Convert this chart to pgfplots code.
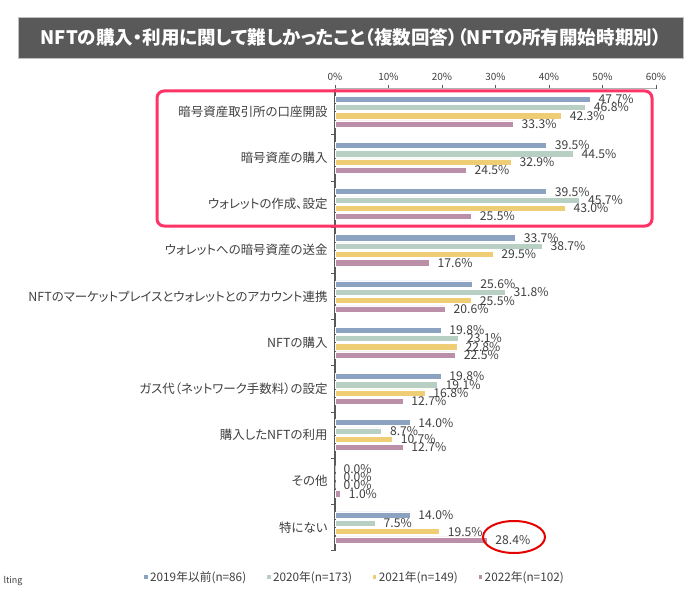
\documentclass[border=0pt]{standalone}
\usepackage{pgfplots}
\pgfplotsset{compat=1.18}
\usepackage{fontspec}
\setmainfont{Noto Sans CJK JP}[RawFeature=+palt]
\definecolor{cblue}{RGB}{139,163,193}
\definecolor{cgreen}{RGB}{184,207,196}
\definecolor{cyellow}{RGB}{239,205,117}
\definecolor{cmauve}{RGB}{187,143,167}
\definecolor{ctitle}{RGB}{89,89,89}
\definecolor{ctext}{RGB}{64,64,64}
\definecolor{cframe}{RGB}{255,51,102}
\begin{document}
\begin{tikzpicture}[x=1bp,y=1bp]
\useasboundingbox (0,0) rectangle (700,-595);
\fill[white] (0,0) rectangle (700,-595);
\draw[fill=ctitle, draw=gray!50] (18,-17) rectangle (683,-58);
\node[text=white, font=\bfseries\fontsize{18.6}{20}\selectfont] at (351,-37.5) {NFTの購入・利用に関して難しかったこと（複数回答）（NFTの所有開始時期別）};
\begin{axis}[
  at={(335bp,-550.5bp)}, anchor=south west,
  width=321bp, height=462bp, scale only axis,
  xbar, bar width=6.2bp,
  xmin=0, xmax=60, ymin=-0.5, ymax=9.5,
  axis x line*=top, axis y line*=left,
  x axis line style={draw=gray!60, line width=0.6bp},
  y axis line style={draw=ctitle, line width=1.3bp},
  tick align=outside, major tick length=4bp,
  tick style={draw=ctitle, line width=0.8bp},
  xtick={0,10,...,60},
  xticklabel={\pgfmathprintnumber{\tick}\%},
  xticklabel style={font=\fontsize{10}{12}\selectfont, text=ctext},
  ytick={-0.5,0.5,...,8.5},
  yticklabels={特にない,その他,購入したNFTの利用,ガス代（ネットワーク手数料）の設定,NFTの購入,NFTのマーケットプレイスとウォレットとのアカウント連携,ウォレットへの暗号資産の送金,ウォレットの作成、設定,暗号資産の購入,暗号資産取引所の口座開設},
  yticklabel style={yshift=23.1bp, anchor=east, font=\fontsize{12.5}{14}\selectfont, text=ctext},
  /pgf/number format/assume math mode=true,
  point meta=x,
  nodes near coords={\pgfmathprintnumber[fixed,fixed zerofill,precision=1]{\pgfplotspointmeta}\%},
  nodes near coords style={anchor=west, xshift=5bp, font=\fontsize{12.2}{14}\selectfont, text=ctext},
  legend columns=4,
  legend style={at={(0.061,-0.057)}, anchor=center, draw=none, fill=none, font=\fontsize{11.8}{13}\selectfont, text=ctext,
    /tikz/every even column/.append style={column sep=18bp}},
  legend image code/.code={\fill[#1] (0bp,-2.2bp) rectangle (4.4bp,2.2bp);},
]
\addplot[fill=cblue, draw=white, line width=0.4bp, bar shift=12.45bp] coordinates {
(14.0,0) (0.0,1) (14.0,2) (19.8,3) (19.8,4) (25.6,5) (33.7,6) (39.5,7) (39.5,8) (47.7,9)};
\addplot[fill=cgreen, draw=white, line width=0.4bp, bar shift=4.15bp] coordinates {
(7.5,0) (0.0,1) (8.7,2) (19.1,3) (23.1,4) (31.8,5) (38.7,6) (45.7,7) (44.5,8) (46.8,9)};
\addplot[fill=cyellow, draw=white, line width=0.4bp, bar shift=-4.15bp] coordinates {
(19.5,0) (0.0,1) (10.7,2) (16.8,3) (22.8,4) (25.5,5) (29.5,6) (43.0,7) (32.9,8) (42.3,9)};
\addplot[fill=cmauve, draw=white, line width=0.4bp, bar shift=-12.45bp] coordinates {
(28.4,0) (1.0,1) (12.7,2) (12.7,3) (22.5,4) (20.6,5) (17.6,6) (25.5,7) (24.5,8) (33.3,9)};
\legend{2019年以前(n=86),2020年(n=173),2021年(n=149),2022年(n=102)}
\end{axis}
\draw[cframe, line width=3bp, rounded corners=7bp] (157,-91) rectangle (652,-226);
\draw[red!90!black, line width=2bp] (514,-537) ellipse [x radius=31, y radius=16];
\node[anchor=west, font=\fontsize{9}{11}\selectfont, text=ctext] at (0,-581) {lting};
\end{tikzpicture}
\end{document}
